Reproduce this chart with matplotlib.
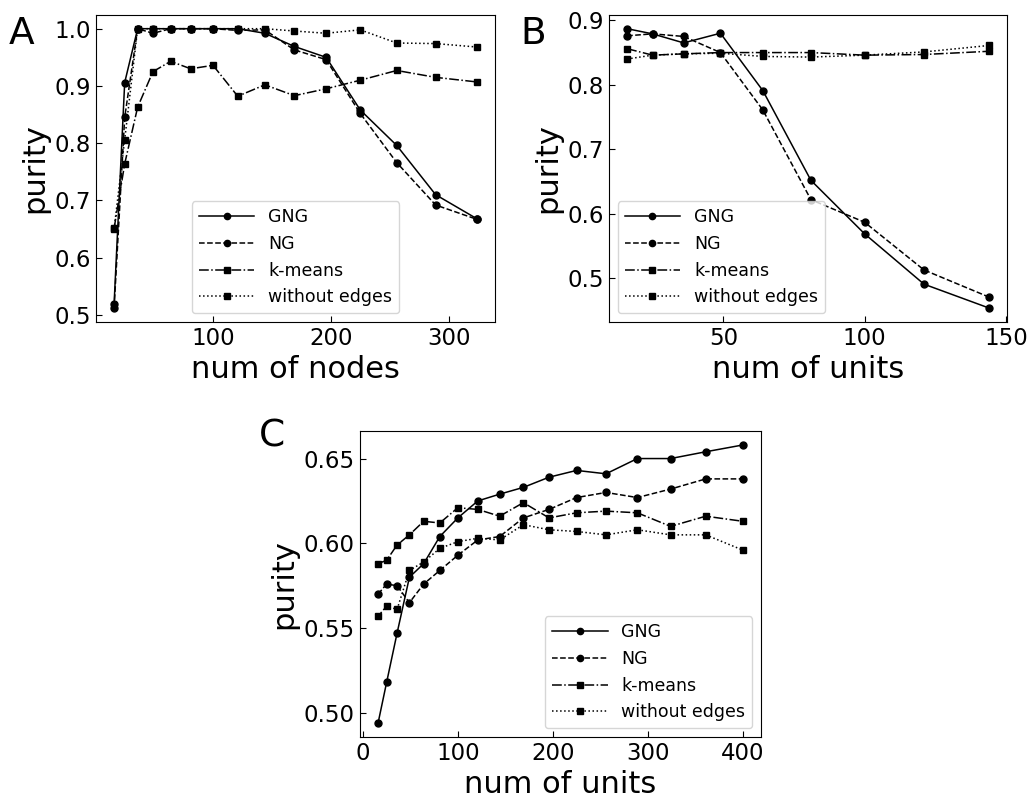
import matplotlib
matplotlib.use('Agg')
import matplotlib.pyplot as plt

# panel A: num of nodes
nodes_a = [16, 25, 36, 49, 64, 81, 100, 121, 144, 169, 196, 225, 256, 289, 324]
gng_a = [0.519, 0.906, 1.0, 1.0, 1.0, 1.0, 1.0, 1.0, 0.992, 0.969, 0.950, 0.858, 0.796, 0.710, 0.668]
ng_a = [0.512, 0.845, 1.0, 0.992, 1.0, 1.0, 1.0, 0.997, 0.998, 0.963, 0.946, 0.852, 0.766, 0.692, 0.667]
km_a = [0.651, 0.764, 0.863, 0.925, 0.943, 0.930, 0.936, 0.882, 0.902, 0.883, 0.895, 0.910, 0.927, 0.915, 0.907]
noedge_a = [0.650, 0.806, 1.0, 1.0, 1.0, 1.0, 1.0, 1.0, 1.0, 0.996, 0.992, 0.998, 0.975, 0.974, 0.968]

# panel B: num of units
units_b = [16, 25, 36, 49, 64, 81, 100, 121, 144]
gng_b = [0.887, 0.879, 0.865, 0.880, 0.791, 0.652, 0.569, 0.491, 0.454]
ng_b = [0.876, 0.879, 0.875, 0.850, 0.761, 0.622, 0.587, 0.513, 0.471]
km_b = [0.856, 0.846, 0.848, 0.850, 0.850, 0.850, 0.846, 0.847, 0.852]
noedge_b = [0.840, 0.846, 0.848, 0.849, 0.844, 0.843, 0.846, 0.851, 0.861]

# panel C: num of units
units_c = [16, 25, 36, 49, 64, 81, 100, 121, 144, 169, 196, 225, 256, 289, 324, 361, 400]
gng_c = [0.494, 0.518, 0.547, 0.580, 0.588, 0.604, 0.615, 0.625, 0.629, 0.633, 0.639, 0.643,
         0.641, 0.650, 0.650, 0.654, 0.658]
ng_c = [0.570, 0.576, 0.575, 0.565, 0.576, 0.584, 0.593, 0.602, 0.604, 0.615, 0.620, 0.627,
        0.630, 0.627, 0.632, 0.638, 0.638]
km_c = [0.588, 0.590, 0.599, 0.605, 0.613, 0.612, 0.621, 0.620, 0.616, 0.624, 0.615, 0.618,
        0.619, 0.618, 0.610, 0.616, 0.613]
noedge_c = [0.557, 0.563, 0.561, 0.584, 0.589, 0.597, 0.601, 0.603, 0.602, 0.611, 0.608, 0.607,
            0.605, 0.608, 0.605, 0.605, 0.596]

labels = ['GNG', 'NG', 'k-means', 'without edges']
styles = [('-', 'o'), ('--', 'o'), ('-.', 's'), (':', 's')]


def draw_panel(ax, x, series, xlabel, loc):
    for y, (ls, mk), lab in zip(series, styles, labels):
        ax.plot(x, y, color='k', linestyle=ls, marker=mk, markersize=5, lw=1.1, label=lab)
    ax.set_xlabel(xlabel, fontsize=22)
    ax.set_ylabel('purity', fontsize=22)
    ax.tick_params(direction='in', labelsize=16.5, length=4)
    ax.legend(loc=loc, fontsize=12.5, handlelength=3.2, markerscale=0.9)


fig = plt.figure(figsize=(10.34, 8.05), dpi=100)

ax_a = fig.add_axes([0.0928, 0.600, 0.3859, 0.3817])
draw_panel(ax_a, nodes_a, [gng_a, ng_a, km_a, noedge_a], 'num of nodes', 'lower center')
ax_a.set_yticks([0.5, 0.6, 0.7, 0.8, 0.9, 1.0])

ax_b = fig.add_axes([0.589, 0.600, 0.385, 0.3817])
draw_panel(ax_b, units_b, [gng_b, ng_b, km_b, noedge_b], 'num of units', 'lower left')
ax_b.set_xticks([50, 100, 150])

ax_c = fig.add_axes([0.348, 0.0845, 0.388, 0.380])
draw_panel(ax_c, units_c, [gng_c, ng_c, km_c, noedge_c], 'num of units', 'lower right')
ax_c.set_yticks([0.50, 0.55, 0.60, 0.65])

fig.text(0.008, 0.958, 'A', fontsize=27, va='center')
fig.text(0.503, 0.958, 'B', fontsize=27, va='center')
fig.text(0.250, 0.458, 'C', fontsize=27, va='center')

fig.savefig('out.png', dpi=100)
